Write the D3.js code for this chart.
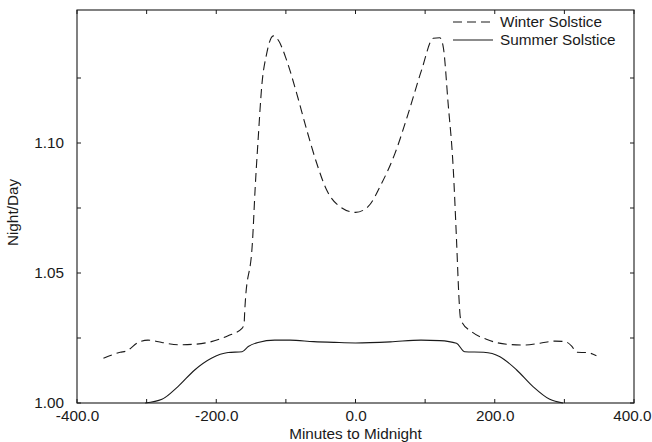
<!DOCTYPE html>
<html>
<head>
<meta charset="utf-8">
<script src="https://cdn.jsdelivr.net/npm/d3@7"></script>
<style>
  html, body { margin: 0; padding: 0; background: #fff; }
  svg { display: block; }
  text { font-family: "Liberation Sans", Arial, Helvetica, sans-serif; fill: #1a1a1a; }
</style>
</head>
<body>
<svg id="chart" width="652" height="442"></svg>
<script>
// ---- data ----
const winterT = [-362, -338, -329, -312, -298, -278, -255, -231, -207, -183, -163, -160, -159,
  -147.7, -144, -139.6, -134.7, -127.5, -118, -111, -99, -84.5, -70, -55.7, -41.4, -22.3,
  0, 18, 37.6, 56.7, 75.8, 95, 111.7, 121, 126, 133, 140.5, 145, 148.7, 150.5, 152.5,
  167, 188, 217, 241, 265, 286.5, 301, 310.5, 317.7, 332, 346];
const winterV = [1.0172, 1.0195, 1.0200, 1.0233, 1.0242, 1.0233, 1.0224, 1.0226, 1.0236, 1.0259, 1.0287, 1.0306, 1.0358,
  1.0633, 1.0832, 1.1024, 1.1217, 1.1345, 1.1412, 1.1396, 1.1319, 1.1191, 1.1050, 1.0922, 1.0819, 1.0755,
  1.0733, 1.0755, 1.0845, 1.0960, 1.1114, 1.1281, 1.1403, 1.1405, 1.1370, 1.1153, 1.0896, 1.0633, 1.0400, 1.0330, 1.0313,
  1.0274, 1.0245, 1.0226, 1.0223, 1.0230, 1.0238, 1.0236, 1.0219, 1.0195, 1.0194, 1.0182];

const summerT = [-302, -278, -255, -231, -207, -183, -163, -154, -140, -116, -94, -60, -30, 0,
  50, 94, 121, 145, 157, 184, 207.5, 231.5, 255, 279, 298];
const summerV = [1.0000, 1.0014, 1.0063, 1.0127, 1.0172, 1.0194, 1.0197, 1.0217, 1.0233, 1.0242, 1.0242, 1.0236, 1.0233, 1.0231,
  1.0235, 1.0242, 1.0240, 1.0230, 1.0197, 1.0195, 1.0178, 1.0127, 1.0063, 1.0014, 1.0000];

const xMajor = [-400, -200, 0, 200, 400];
const xMinor = [-300, -100, 100, 300];
const yMajor = [1.00, 1.05, 1.10];
const yMinor = [1.025, 1.075, 1.125];

const seriesNames = ["Winter Solstice", "Summer Solstice"];

// ---- layout ----
const svg = d3.select("#chart");
const L = 77, R = 634, T = 10, B = 403;
const x = d3.scaleLinear().domain([-400, 400]).range([L, R]);
const y = d3.scaleLinear().domain([1.0, 1.0 + (B - T) / 2600]).range([B, T]);

const ink = "#1a1a1a";
const fontSize = "15.3px";
const fmtX = v => v.toFixed(1);
const fmtY = v => v.toFixed(2);

// frame
svg.append("rect")
  .attr("x", L).attr("y", T).attr("width", R - L).attr("height", B - T)
  .attr("fill", "none").attr("stroke", ink).attr("stroke-width", 1.1);

const tickLen = 4;
const allX = xMajor.concat(xMinor);
const allY = yMajor.concat(yMinor);

// bottom axis
const bottom = svg.append("g").attr("transform", `translate(0,${B})`)
  .call(d3.axisBottom(x).tickValues(xMajor).tickSize(0).tickPadding(7).tickFormat(fmtX));
bottom.select(".domain").remove();
bottom.selectAll("text").style("font-size", fontSize).attr("fill", ink);
// keep the last label inside the page (it touches the right edge in the reference)
bottom.selectAll(".tick").filter(d => d === 400).select("text")
  .attr("text-anchor", "end").attr("x", 651 - x(400));

// left axis
const left = svg.append("g").attr("transform", `translate(${L},0)`)
  .call(d3.axisLeft(y).tickValues(yMajor).tickSize(0).tickPadding(13).tickFormat(fmtY));
left.select(".domain").remove();
left.selectAll("text").style("font-size", fontSize).attr("fill", ink);

// inward ticks on all four sides
const ticks = svg.append("g").attr("stroke", ink).attr("stroke-width", 1);
allX.forEach(v => {
  ticks.append("line").attr("x1", x(v)).attr("x2", x(v)).attr("y1", B).attr("y2", B - tickLen);
  ticks.append("line").attr("x1", x(v)).attr("x2", x(v)).attr("y1", T).attr("y2", T + tickLen);
});
allY.forEach(v => {
  ticks.append("line").attr("y1", y(v)).attr("y2", y(v)).attr("x1", L).attr("x2", L + tickLen);
  ticks.append("line").attr("y1", y(v)).attr("y2", y(v)).attr("x1", R).attr("x2", R - tickLen);
});

// axis titles
svg.append("text").attr("x", (L + R) / 2).attr("y", 439)
  .attr("text-anchor", "middle").style("font-size", fontSize).text("Minutes to Midnight");
svg.append("text").attr("transform", `translate(18,${(T + B) / 2 + 6}) rotate(-90)`)
  .attr("text-anchor", "middle").style("font-size", fontSize).text("Night/Day");

// lines
const line = d3.line().x(d => x(d[0])).y(d => y(d[1])).curve(d3.curveMonotoneX);
const winter = winterT.map((t, i) => [t, winterV[i]]);
const summer = summerT.map((t, i) => [t, summerV[i]]);

const plot = svg.append("g");
plot.append("path").datum(winter).attr("d", line)
  .attr("fill", "none").attr("stroke", ink).attr("stroke-width", 1.1)
  .attr("stroke-dasharray", "9,5");
plot.append("path").datum(summer).attr("d", line)
  .attr("fill", "none").attr("stroke", ink).attr("stroke-width", 1.1);

// legend
const leg = svg.append("g");
const legY = [22, 40];
leg.append("line").attr("x1", 453).attr("x2", 493).attr("y1", legY[0]).attr("y2", legY[0])
  .attr("stroke", ink).attr("stroke-width", 1.1).attr("stroke-dasharray", "9,5");
leg.append("line").attr("x1", 453).attr("x2", 493).attr("y1", legY[1]).attr("y2", legY[1])
  .attr("stroke", ink).attr("stroke-width", 1.1);
seriesNames.forEach((n, i) => {
  leg.append("text").attr("x", 500).attr("y", legY[i] + 5).style("font-size", fontSize).text(n);
});
</script>
</body>
</html>
